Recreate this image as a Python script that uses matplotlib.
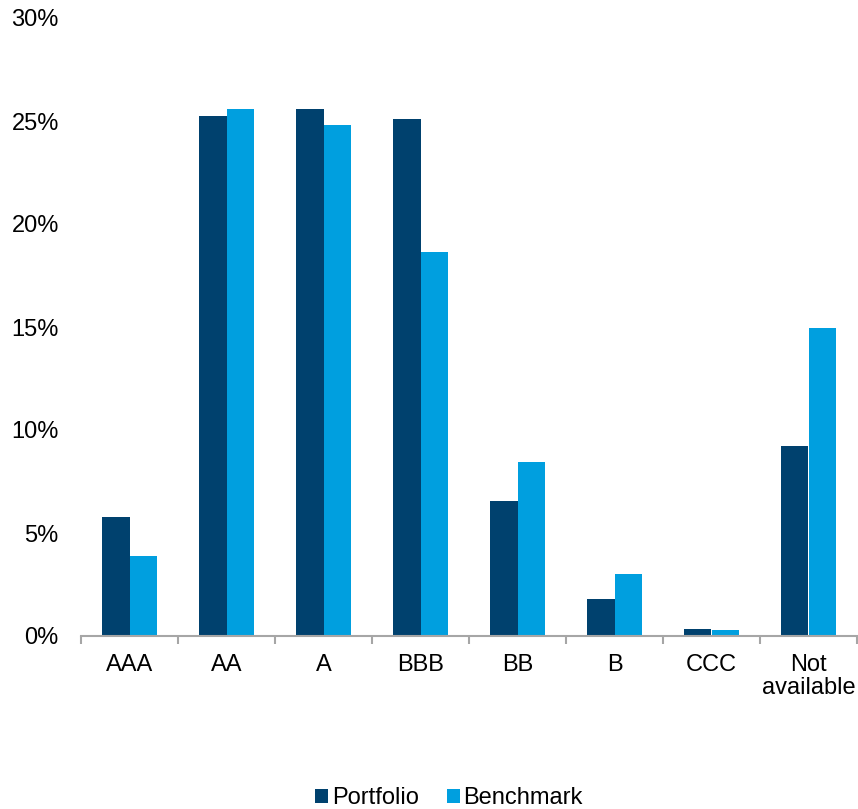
import matplotlib.pyplot as plt
import numpy as np

plt.rcParams['font.family'] = ['Liberation Sans', 'DejaVu Sans']

categories = ['AAA', 'AA', 'A', 'BBB', 'BB', 'B', 'CCC', 'Not\navailable']
portfolio = [5.8, 25.25, 25.6, 25.1, 6.55, 1.8, 0.33, 9.2]
benchmark = [3.9, 25.6, 24.8, 18.65, 8.45, 3.0, 0.28, 14.95]

dark_blue = '#00416E'
light_blue = '#009FDF'

fig = plt.figure(figsize=(8.58, 8.09), dpi=100)
ax = fig.add_axes([81 / 858, 173 / 809, 776 / 858, 618 / 809])

x = np.arange(len(categories))
w = 0.284
ax.bar(x - w / 2, portfolio, w, color=dark_blue, label='Portfolio')
ax.bar(x + w / 2, benchmark, w, color=light_blue, label='Benchmark')

ax.set_xlim(-0.5, len(categories) - 0.5)
ax.set_ylim(0, 30)
ax.set_yticks(range(0, 31, 5))
ax.set_yticklabels([f'{v}%' for v in range(0, 31, 5)])

# tick marks sit between categories
ax.set_xticks(np.arange(-0.5, len(categories), 1.0), minor=False)
ax.set_xticklabels([])
ax.set_xticks(x, minor=True)
ax.set_xticklabels(categories, minor=True, fontsize=17, linespacing=1.05)
ax.tick_params(axis='x', which='major', length=6, width=1.5, color='#A6A6A6')
ax.tick_params(axis='x', which='minor', length=0, pad=13)
ax.tick_params(axis='y', length=0, pad=16, labelsize=17)

for s in ['top', 'right', 'left']:
    ax.spines[s].set_visible(False)
ax.spines['bottom'].set_color('#A6A6A6')
ax.spines['bottom'].set_linewidth(1.5)

fig.legend(loc='center', bbox_to_anchor=(449 / 858, 11 / 809), ncol=2,
           frameon=False, fontsize=17, handlelength=0.55, handleheight=0.55,
           handletextpad=0.15, columnspacing=1.2, borderpad=0)

fig.savefig('out.png', dpi=100)
